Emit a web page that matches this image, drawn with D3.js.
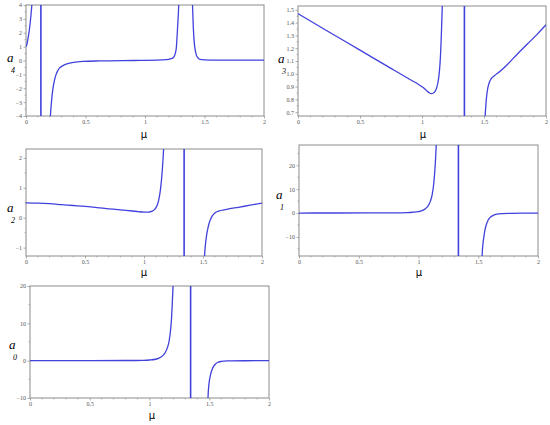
<!DOCTYPE html>
<html><head><meta charset="utf-8">
<script src="https://cdn.jsdelivr.net/npm/d3@7"></script>
<style>body{margin:0;background:#fff}svg{display:block}</style></head>
<body><svg id="c" width="550" height="425"></svg>
<script>
// ---------- data ----------
const muTicks = [0, 0.5, 1, 1.5, 2];
const muMinor = [0.1,0.2,0.3,0.4,0.6,0.7,0.8,0.9,1.1,1.2,1.3,1.4,1.6,1.7,1.8,1.9];

const a4Ticks = [-4,-3,-2,-1,0,1,2,3,4];
const a3Ticks = [0.7,0.8,0.9,1.0,1.1,1.2,1.3,1.4,1.5];
const a2Ticks = [-1,0,1,2];
const a1Ticks = [-10,0,10,20];
const a0Ticks = [-10,0,10,20];

const a4Domain = [-4, 4];
const a3Domain = [0.67, 1.53];
const a2Domain = [-1.28, 2.3];
const a1Domain = [-18, 28.5];
const a0Domain = [-10, 20];

// a4 branches
const a4B1 = [[0,1.0],[0.007,1.15],[0.014,1.45],[0.021,1.8],[0.028,2.2],[0.035,2.7],[0.042,3.3],[0.048,3.9],[0.051,4.3]];
const a4Pole = [[0.125,-4],[0.125,4]];
const a4B2 = [[0.203,-4.3],[0.205,-4.0],[0.215,-2.9],[0.225,-2.1],[0.24,-1.4],[0.253,-1.0],[0.268,-0.72],[0.281,-0.55],[0.31,-0.37],[0.337,-0.26],[0.4,-0.14],[0.478,-0.07],[0.618,-0.03],[0.9,0.0],[1.1,0.02],[1.18,0.06],[1.208,0.1],[1.225,0.15],[1.236,0.2],[1.248,0.35],[1.256,0.55],[1.263,0.9],[1.27,1.8],[1.276,2.7],[1.281,3.5],[1.285,4.3]];
const a4B3 = [[1.398,4.3],[1.401,3.6],[1.405,2.6],[1.409,1.9],[1.413,1.4],[1.42,0.85],[1.433,0.35],[1.447,0.17],[1.461,0.08],[1.5,0.04],[1.601,0.02],[1.8,0.02],[2.0,0.02]];

// a3 branches
const a3B1 = [[0,1.47],[0.25,1.327],[0.5,1.185],[0.75,1.042],[0.9,0.957],[0.97,0.918],[1.01,0.892],[1.04,0.866],[1.06,0.851],[1.075,0.845],[1.09,0.848],[1.105,0.862],[1.118,0.89],[1.128,0.93],[1.136,0.98],[1.143,1.05],[1.149,1.14],[1.154,1.25],[1.158,1.36],[1.162,1.48],[1.164,1.55]];
const a3Pole = [[1.342,0.67],[1.342,1.53]];
const a3B2 = [[1.508,0.65],[1.511,0.7],[1.516,0.77],[1.522,0.83],[1.53,0.885],[1.542,0.93],[1.557,0.96],[1.584,0.985],[1.63,1.02],[1.691,1.075],[1.77,1.155],[1.852,1.235],[1.93,1.31],[2.0,1.383]];

// a2 branches
const a2B1 = [[0,0.5],[0.1,0.49],[0.2,0.47],[0.3,0.44],[0.4,0.41],[0.5,0.38],[0.6,0.34],[0.7,0.3],[0.8,0.26],[0.9,0.225],[0.95,0.205],[1.0,0.19],[1.04,0.19],[1.07,0.22],[1.09,0.28],[1.11,0.4],[1.125,0.6],[1.138,0.9],[1.148,1.25],[1.156,1.65],[1.162,2.0],[1.167,2.35]];
const a2Pole = [[1.34,-1.28],[1.34,2.3]];
const a2B2 = [[1.512,-1.35],[1.516,-1.1],[1.522,-0.85],[1.53,-0.6],[1.54,-0.38],[1.55,-0.21],[1.565,-0.04],[1.58,0.07],[1.6,0.16],[1.63,0.22],[1.7,0.28],[1.8,0.35],[1.9,0.42],[2.0,0.49]];

// a1 branches
const a1B1 = [[0,0],[0.3,0.02],[0.6,0.05],[0.8,0.1],[0.9,0.2],[0.95,0.33],[1.0,0.6],[1.03,1.0],[1.06,1.9],[1.08,3.0],[1.1,5.0],[1.115,7.8],[1.125,11.2],[1.134,16.0],[1.141,21.0],[1.146,26.0],[1.149,29.5]];
const a1Pole = [[1.334,-18],[1.334,28.5]];
const a1B2 = [[1.531,-19],[1.535,-15.5],[1.541,-12.3],[1.548,-9.6],[1.556,-7.2],[1.566,-5.1],[1.58,-3.2],[1.6,-1.8],[1.63,-0.85],[1.67,-0.38],[1.75,-0.12],[1.9,-0.03],[2.0,0]];

// a0 branches
const a0B1 = [[0,0],[0.5,0.01],[0.8,0.04],[0.95,0.1],[1.0,0.18],[1.05,0.38],[1.08,0.7],[1.1,1.05],[1.13,2.1],[1.15,3.5],[1.165,5.4],[1.175,7.8],[1.184,11.2],[1.19,14.8],[1.195,18.5],[1.198,21]];
const a0Pole = [[1.344,-10],[1.344,20]];
const a0B2 = [[1.488,-10.8],[1.492,-8.3],[1.497,-6.4],[1.503,-5.0],[1.512,-3.6],[1.522,-2.5],[1.535,-1.6],[1.55,-0.95],[1.57,-0.48],[1.6,-0.21],[1.65,-0.08],[1.8,-0.02],[2.0,0]];

// ---------- layout ----------
const panels = [
  {sub:"4", box:[26,5,264,116], ticks:a4Ticks, dom:a4Domain, series:[a4B1,a4Pole,a4B2,a4B3], fmt:d3.format("d"), minor:0.5, lab:[7,62], mu:[144,138]},
  {sub:"3", box:[298,6,546,116], ticks:a3Ticks, dom:a3Domain, series:[a3B1,a3Pole,a3B2], fmt:d3.format(".1f"), minor:0.05, lab:[278,63], mu:[423,138]},
  {sub:"2", box:[26,149,262,256], ticks:a2Ticks, dom:a2Domain, series:[a2B1,a2Pole,a2B2], fmt:d3.format("d"), minor:0.5, lab:[7,212], mu:[144,276]},
  {sub:"1", box:[299,145,538,256], ticks:a1Ticks, dom:a1Domain, series:[a1B1,a1Pole,a1B2], fmt:d3.format("d"), minor:5, lab:[276,199], mu:[419,276]},
  {sub:"0", box:[30,286,269,398], ticks:a0Ticks, dom:a0Domain, series:[a0B1,a0Pole,a0B2], fmt:d3.format("d"), minor:5, lab:[9,349], mu:[152,419]},
];

const svg = d3.select("#c");
const lineColor = "#4141dc";
const frameColor = "#8c8c8c";

panels.forEach((p, i) => {
  const [x0,y0,x1,y1] = p.box;
  const x = d3.scaleLinear().domain([0,2]).range([x0,x1]);
  const y = d3.scaleLinear().domain(p.dom).range([y1,y0]);
  const g = svg.append("g");
  const clipId = "clip"+i;
  g.append("clipPath").attr("id",clipId).append("rect")
    .attr("x",x0).attr("y",y0).attr("width",x1-x0).attr("height",y1-y0);

  // minor ticks
  const yMinor = d3.range(Math.ceil(p.dom[0]/p.minor)*p.minor, p.dom[1]+1e-9, p.minor)
    .filter(v => !p.ticks.some(t => Math.abs(t-v)<1e-9));
  g.selectAll(".ym").data(yMinor).join("line")
    .attr("x1",x0-1.5).attr("x2",x0).attr("y1",d=>y(d)).attr("y2",d=>y(d))
    .attr("stroke",frameColor).attr("stroke-width",0.6);
  g.selectAll(".xm").data(muMinor).join("line")
    .attr("x1",d=>x(d)).attr("x2",d=>x(d)).attr("y1",y1).attr("y2",y1+1.5)
    .attr("stroke",frameColor).attr("stroke-width",0.6);

  // axes
  const ax = d3.axisBottom(x).tickValues(muTicks).tickFormat(d3.format("")).tickSize(2.5).tickPadding(1.5);
  const ay = d3.axisLeft(y).tickValues(p.ticks).tickFormat(p.fmt).tickSize(2.5).tickPadding(1.5);
  const gx = g.append("g").attr("transform",`translate(0,${y1})`).call(ax);
  const gy = g.append("g").attr("transform",`translate(${x0},0)`).call(ay);
  [gx,gy].forEach(a => {
    a.select(".domain").remove();
    a.selectAll(".tick line").attr("stroke",frameColor).attr("stroke-width",0.7);
    a.selectAll(".tick text").attr("font-family","Liberation Serif, serif").attr("font-size",6).attr("fill","#555");
  });

  // frame
  g.append("rect").attr("x",x0).attr("y",y0).attr("width",x1-x0).attr("height",y1-y0)
    .attr("fill","none").attr("stroke",frameColor).attr("stroke-width",1);

  // curves
  const line = d3.line().x(d=>x(d[0])).y(d=>y(d[1])).curve(d3.curveMonotoneX);
  const vline = d3.line().x(d=>x(d[0])).y(d=>y(d[1]));
  const cg = g.append("g").attr("clip-path",`url(#${clipId})`);
  p.series.forEach(s => {
    const isPole = s.length === 2 && s[0][0] === s[1][0];
    cg.append("path").datum(s).attr("d", isPole ? vline : line)
      .attr("fill","none").attr("stroke",lineColor).attr("stroke-width", isPole ? 1.6 : 1.3)
      .attr("stroke-linejoin","round");
  });

  // labels
  g.append("text").attr("x",p.lab[0]).attr("y",p.lab[1])
    .attr("font-family","Liberation Serif, serif").attr("font-style","italic")
    .attr("font-size",13).attr("fill","#000").text("a");
  g.append("text").attr("x",p.lab[0]+4).attr("y",p.lab[1]+10.5)
    .attr("font-family","Liberation Serif, serif").attr("font-style","italic")
    .attr("font-size",8).attr("fill","#000").text(p.sub);

  g.append("text").attr("x",p.mu[0]).attr("y",p.mu[1]).attr("text-anchor","middle")
    .attr("font-family","DejaVu Sans, sans-serif").attr("font-size",10).attr("fill","#000").text("μ");
});
</script></body></html>
